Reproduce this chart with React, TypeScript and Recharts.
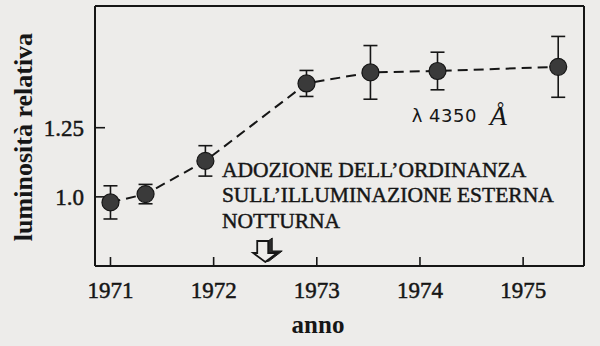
import React from "react";
import { ComposedChart, Line, XAxis, YAxis, ErrorBar, ReferenceDot, Label } from "recharts";

const years = [1971.0, 1971.34, 1971.92, 1972.9, 1973.52, 1974.17, 1975.34];
const luminosity = [0.98, 1.01, 1.13, 1.41, 1.45, 1.455, 1.47];
const errors = [0.06, 0.035, 0.055, 0.047, 0.097, 0.068, 0.11];
const yearTicks = [1971, 1972, 1973, 1974, 1975];
const lumTicks = [1.0, 1.25];
const noteLines = ["ADOZIONE DELL’ORDINANZA", "SULL’ILLUMINAZIONE ESTERNA", "NOTTURNA"];
const ordinanceYear = 1972.5;

const INK = "#161616";
const BG = "#edecea";
const SERIF = "'Liberation Serif', 'Times New Roman', serif";

const data = years.map((year, i) => ({ year, lum: luminosity[i], err: errors[i] }));

const YearTick = (props: any) => (
  <text
    x={props.x}
    y={props.y + 41}
    textAnchor="middle"
    fontFamily={SERIF}
    fontSize={23}
    fill={INK}
    stroke={INK}
    strokeWidth={0.5}
  >
    {props.payload.value}
  </text>
);

const LumTick = (props: any) => (
  <text
    x={props.x - 21}
    y={props.y + 8}
    textAnchor="end"
    fontFamily={SERIF}
    fontSize={23}
    fill={INK}
    stroke={INK}
    strokeWidth={0.5}
  >
    {props.payload.value === 1 ? "1.0" : props.payload.value}
  </text>
);

const Dot = (props: any) => (
  <circle key={props.index} cx={props.cx} cy={props.cy} r={8.5} fill="#3a3a3a" stroke={INK} strokeWidth={1.2} />
);

const NoteShape = (props: any) => (
  <g>
    {noteLines.map((line, i) => (
      <text
        key={i}
        x={props.cx}
        y={props.cy + i * 25.5}
        fontFamily={SERIF}
        fontSize={21.5}
        fill={INK}
        stroke={INK}
        strokeWidth={0.45}
      >
        {line}
      </text>
    ))}
  </g>
);

const LambdaShape = (props: any) => (
  <g>
    <text x={props.cx} y={props.cy} fontFamily="'DejaVu Sans', sans-serif" fontSize={18} letterSpacing={0.5} fill={INK}>
      λ 4350
    </text>
    <text x={props.cx + 78} y={props.cy + 3} fontFamily={SERIF} fontStyle="italic" fontSize={28} fill={INK}>
      Å
    </text>
  </g>
);

const ArrowShape = (props: any) => {
  const { cx, cy } = props;
  const outline = `M${cx - 8},${cy - 21} L${cx + 3},${cy - 21} L${cx + 3},${cy - 9} L${cx + 12},${cy - 9} L${cx},${cy} L${cx - 12},${cy - 9} L${cx - 8},${cy - 9} Z`;
  const shade = `M${cx + 3},${cy - 21} L${cx + 7},${cy - 24} L${cx + 7},${cy - 11} L${cx + 17},${cy - 11} L${cx + 4},${cy - 1} L${cx},${cy} L${cx + 12},${cy - 9} L${cx + 3},${cy - 9} Z`;
  return (
    <g>
      <path d={shade} fill="#2a2a2a" stroke={INK} strokeWidth={1} />
      <path d={outline} fill={BG} stroke={INK} strokeWidth={1.8} strokeLinejoin="miter" />
    </g>
  );
};

export default function App() {
  return (
    <div style={{ position: "absolute", left: 0, top: 0, width: 600, height: 346, background: BG }}>
      <ComposedChart width={600} height={346} data={data} margin={{ top: 0, right: 0, bottom: 0, left: 0 }}>
        <XAxis
          xAxisId="b"
          dataKey="year"
          type="number"
          domain={[1970.85, 1975.59]}
          allowDataOverflow
          ticks={yearTicks}
          orientation="bottom"
          height={80}
          axisLine={{ stroke: INK, strokeWidth: 2 }}
          tickLine={{ stroke: INK, strokeWidth: 1.6 }}
          tickSize={-9}
          tickMargin={0}
          tick={YearTick}
        >
          <Label
            content={() => (
              <text x={318} y={333} textAnchor="middle" fontFamily={SERIF} fontWeight="bold" fontSize={25} fill={INK}>
                anno
              </text>
            )}
          />
        </XAxis>
        <XAxis
          xAxisId="t"
          dataKey="year"
          type="number"
          domain={[1970.85, 1975.59]}
          allowDataOverflow
          ticks={yearTicks}
          orientation="top"
          height={6}
          axisLine={{ stroke: INK, strokeWidth: 2 }}
          tickLine={{ stroke: INK, strokeWidth: 1.6 }}
          tickSize={-8}
          tick={false}
        />
        <YAxis
          yAxisId="l"
          type="number"
          domain={[0.75, 1.69]}
          allowDataOverflow
          ticks={lumTicks}
          width={95}
          axisLine={{ stroke: INK, strokeWidth: 2 }}
          tickLine={{ stroke: INK, strokeWidth: 1.6 }}
          tickSize={-10}
          tickMargin={0}
          tick={LumTick}
        >
          <Label
            content={() => (
              <text
                transform="translate(32,137) rotate(-90)"
                textAnchor="middle"
                fontFamily={SERIF}
                fontWeight="bold"
                fontSize={26}
                fill={INK}
              >
                luminosità relativa
              </text>
            )}
          />
        </YAxis>
        <YAxis
          yAxisId="r"
          orientation="right"
          type="number"
          domain={[0.75, 1.69]}
          allowDataOverflow
          ticks={lumTicks}
          width={16}
          axisLine={{ stroke: INK, strokeWidth: 2 }}
          tickLine={{ stroke: INK, strokeWidth: 1.6 }}
          tickSize={7}
          tick={false}
        />
        <Line
          xAxisId="b"
          yAxisId="l"
          dataKey="lum"
          type="linear"
          stroke={INK}
          strokeWidth={2}
          strokeDasharray="10 6"
          dot={Dot}
          activeDot={false}
          isAnimationActive={false}
        >
          <ErrorBar dataKey="err" direction="y" width={7} stroke={INK} strokeWidth={1.6} />
        </Line>
        <ReferenceDot xAxisId="b" yAxisId="l" x={1972.08} y={1.072} r={0} ifOverflow="visible" shape={NoteShape} />
        <ReferenceDot xAxisId="b" yAxisId="l" x={1973.92} y={1.271} r={0} ifOverflow="visible" shape={LambdaShape} />
        <ReferenceDot xAxisId="b" yAxisId="l" x={ordinanceYear} y={0.7645} r={0} ifOverflow="visible" shape={ArrowShape} />
      </ComposedChart>
    </div>
  );
}
